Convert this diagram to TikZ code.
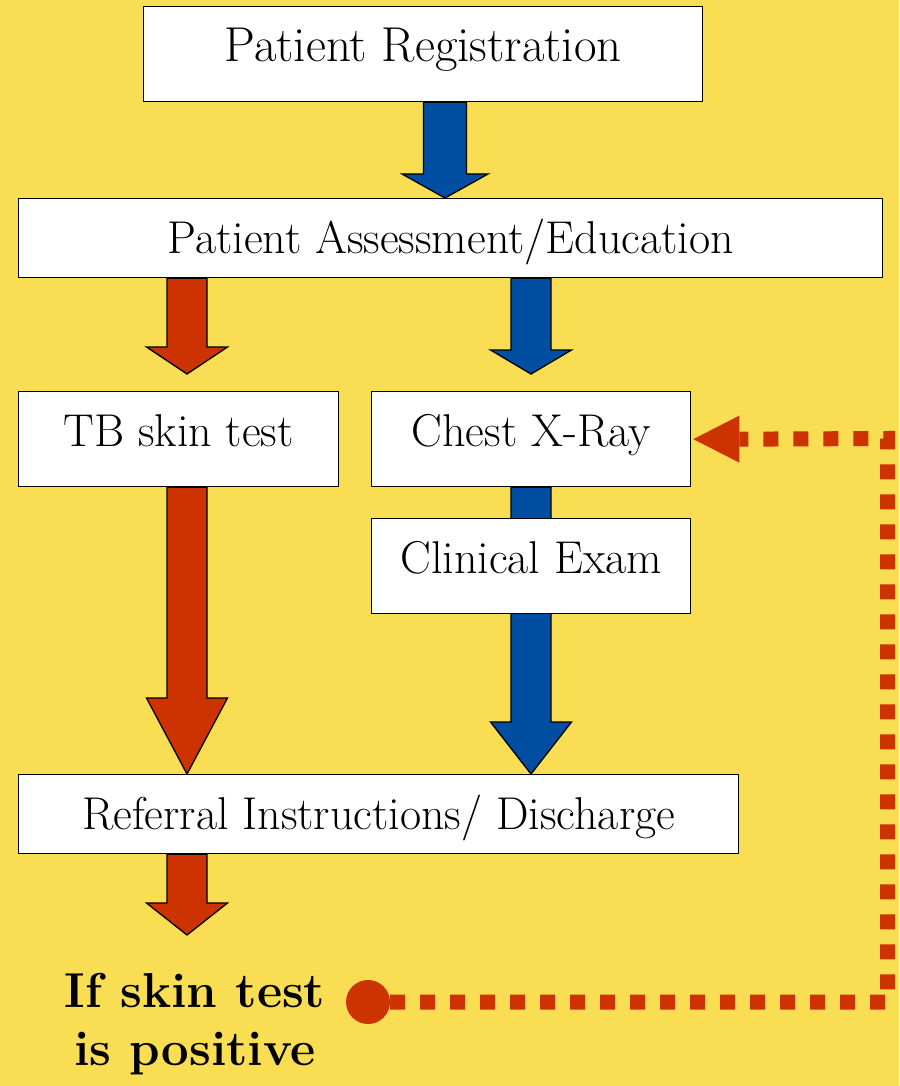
\documentclass[tikz,border=0pt]{standalone}
\usetikzlibrary{calc}
\definecolor{bgyellow}{RGB}{249,221,82}
\definecolor{fcred}{RGB}{204,51,0}
\definecolor{fcblue}{RGB}{0,78,162}
% #1 top, #2 tip, #3 shaft half width, #4 head half width, #5 head length, #6 colour
\newcommand\blockdown[6]{%
  \path (#1) coordinate (bdtop) (#2) coordinate (bdtip);
  \filldraw[fill=#6, draw=black, line width=1.3pt, line join=miter]
    ($(bdtop)+(-#3,0)$) -- ($(bdtip)+(-#3,-#5)$) -- ($(bdtip)+(-#4,-#5)$) --
    (bdtip) -- ($(bdtip)+(#4,-#5)$) -- ($(bdtip)+(#3,-#5)$) -- ($(bdtop)+(#3,0)$) -- cycle;}
\begin{document}
\begin{tikzpicture}[x=1pt,y=-1pt,
  box/.style={draw=black, fill=white, line width=1.3pt, anchor=north west, inner sep=0pt,
    font=\fontsize{46}{52}\selectfont, text height=40pt},
  tallbox/.style={box, minimum height=95pt, text depth=25pt},
  flatbox/.style={box, minimum height=79pt, text depth=9pt},
  condtext/.style={font=\bfseries\fontsize{49}{58}\selectfont, align=center, inner sep=0pt},
  dotline/.style={draw=fcred, line width=15pt, dash pattern=on 15pt off 15pt}]
\fill[bgyellow] (0,0) rectangle (899,1086);
\useasboundingbox (0,0) rectangle (899,1086);
\coordinate (xb) at (445,0);
\coordinate (xl) at (187,0);
\coordinate (xr) at (531,0);
\node[tallbox, minimum width=559pt, font=\fontsize{49}{52}\selectfont] (reg) at (143,6) {Patient Registration};
\node[flatbox, minimum width=864pt] (assess) at (18,198) {Patient Assessment/Education};
\node[tallbox, minimum width=320pt] (tb) at (18,391) {TB skin test};
\node[tallbox, minimum width=319pt] (chest) at (371,391) {Chest X-Ray};
\node[flatbox, minimum width=720pt] (ref) at (18,774) {Referral Instructions/ Discharge};
\coordinate (end6) at (187,935);
\blockdown{reg.south -| xb}{assess.north -| xb}{21.5}{43}{24}{fcblue}
\blockdown{assess.south -| xl}{$(tb.north -| xl)+(0,-17)$}{20}{40.5}{27}{fcred}
\blockdown{assess.south -| xr}{$(chest.north -| xr)+(0,-17)$}{20}{40.5}{24}{fcblue}
\blockdown{tb.south -| xl}{ref.north -| xl}{20}{40.5}{76}{fcred}
\blockdown{chest.south -| xr}{ref.north -| xr}{20}{40.5}{52}{fcblue}
\blockdown{ref.south -| xl}{end6}{20}{40.5}{32}{fcred}
\node[tallbox, minimum width=319pt] (clin) at (371,518) {Clinical Exam};
\node[condtext] (cond) at (195,1024) {If skin test\\is positive};
\node[circle, fill=fcred, minimum size=44pt, inner sep=0pt] (dot) at (368,1002) {};
\coordinate (c1) at (887.5,1002);
\coordinate (c2) at (887.5,438.5);
\coordinate (ahtip) at ($(chest.east)+(2,0)$);
\draw[dotline] (dot.east) -- (c1) -- (c2) -- ($(ahtip)+(46,0)$);
\fill[fcred] (ahtip) -- ++(46,-23.5) -- ++(0,47) -- cycle;
\end{tikzpicture}
\end{document}
